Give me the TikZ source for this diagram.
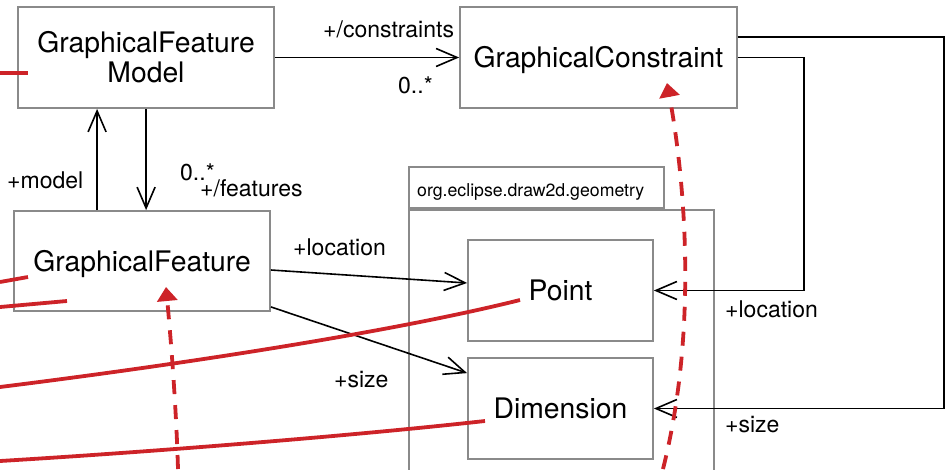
\documentclass[tikz,border=0pt]{standalone}
\usepackage{fontspec}
\setmainfont{TeX Gyre Heros}
\usetikzlibrary{arrows.meta}
\definecolor{umlgray}{RGB}{138,138,138}
\definecolor{markred}{RGB}{205,35,40}
\begin{document}
\begin{tikzpicture}[x=1pt,y=-1pt,
  classbox/.style={draw=umlgray, line width=1.8pt, fill=white, inner sep=0pt,
    font=\fontsize{28.3}{30}\selectfont, align=center},
  oneline/.style={text height=20pt, text depth=0pt},
  pkgframe/.style={draw=umlgray, line width=1.8pt, fill=white, inner sep=0pt},
  assoc/.style={draw=black, line width=1.6pt, -{Straight Barb[length=21pt,width=18pt]}},
  role/.style={font=\fontsize{23}{27}\selectfont, inner sep=0pt, anchor=base west},
  pkgtext/.style={font=\fontsize{17.7}{20}\selectfont, inner sep=0pt, anchor=base west},
  redstroke/.style={draw=markred, line width=3.8pt},
  reddash/.style={redstroke, dash pattern=on 14pt off 11pt,
    -{Triangle[length=14pt,width=20pt]}},
]
\useasboundingbox (0,0) rectangle (946,469);
\clip (0,0) rectangle (946,469);

% package org.eclipse.draw2d.geometry
\node[pkgframe, anchor=north west, minimum width=305pt, minimum height=300pt] (pkgbody) at (408,209) {};
\node[pkgframe, anchor=south west, minimum width=255pt, minimum height=41pt] (pkgtab) at (408,209) {};
\node[pkgtext] (pkgname) at (417,196) {org.eclipse.draw2d.geometry};

% classes
\node[classbox, minimum width=256pt, minimum height=101pt] (gfm) at (146,57.5) {GraphicalFeature\\Model};
\node[classbox, oneline, minimum width=277pt, minimum height=101pt] (gc) at (598.5,57.5) {GraphicalConstraint};
\node[classbox, oneline, minimum width=256pt, minimum height=100pt] (gf) at (142,261) {GraphicalFeature};
\node[classbox, oneline, minimum width=185pt, minimum height=101pt] (point) at (560.5,290.5) {Point};
\node[classbox, oneline, minimum width=185pt, minimum height=101pt] (dim) at (560.5,408.5) {Dimension};

% associations
\draw[assoc] (gfm.east) -- (gc.west);
\draw[assoc] ([xshift=84pt]gf.north west) -- ([xshift=80pt]gfm.south west);
\draw[assoc] ([xshift=129pt]gfm.south west) -- ([xshift=133pt]gf.north west);
\draw[assoc] ([yshift=-9pt]gf.east) -- ([yshift=7.5pt]point.west);
\draw[assoc] ([yshift=5pt]gf.south east) -- ([yshift=-16pt]dim.north west);
\draw[assoc] ([yshift=20.5pt]gc.east) -- ++(206pt,0) |- (dim.east);
\draw[assoc] (gc.east) -- ++(66pt,0) |- (point.east);

% role names and multiplicities
\node[role] (lconstr) at (323,37) {+/constraints};
\node[role] (mconstr) at (398,93) {0..*};
\node[role] (lmodel) at (7,188) {+model};
\node[role] (mfeat) at (180,180) {0..*};
\node[role] (lfeat) at (200,196) {+/features};
\node[role] (lloc) at (293,255) {+location};
\node[role] (lsize) at (334,387) {+size};
\node[role] (rloc) at (725,317) {+location};
\node[role] (rsize) at (725,432) {+size};

% red annotation strokes
\draw[redstroke] (0,73) -- (28,73);
\draw[redstroke] (0,282) -- (28,277);
\draw[redstroke] (0,307) -- (67,301);
\draw[redstroke] (0,387) .. controls (200,362) and (400,330) .. (520,300);
\draw[redstroke] (0,461) .. controls (150,452) and (350,436) .. (485,421);
\draw[reddash] (178,469) .. controls (176,400) and (170,330) .. (166,287);
\draw[reddash] (663,469) .. controls (698,330) and (685,180) .. (667,83);
\end{tikzpicture}
\end{document}
